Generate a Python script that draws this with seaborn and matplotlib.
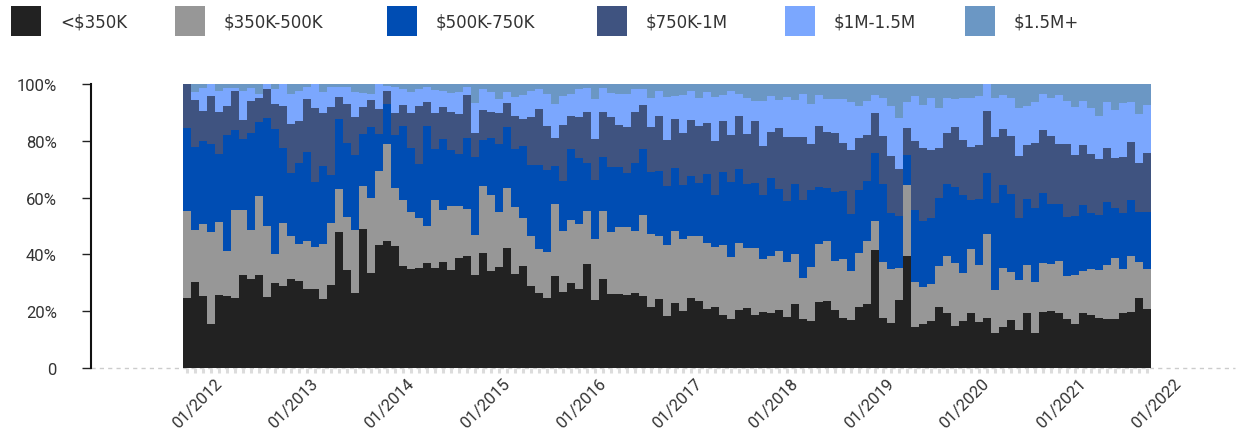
import numpy as np
import pandas as pd
import matplotlib
matplotlib.use("Agg")
import matplotlib.pyplot as plt
import seaborn as sns
from matplotlib.patches import Rectangle
from matplotlib.transforms import ScaledTranslation

# ---------------- data (share of sales, %) ----------------
months = pd.date_range("2012-01-01", periods=121, freq="MS")

under_350k = [
    24.6, 30.3, 25.4, 15.5, 25.7, 25.4, 24.6, 32.7, 31.3, 32.7,
    25.0, 29.9, 28.9, 31.3, 30.6, 27.8, 27.8, 24.3, 29.2, 47.9,
    34.5, 26.4, 48.9, 33.5, 43.3, 44.7, 43.0, 35.9, 34.9, 35.2,
    37.0, 35.2, 37.3, 34.5, 38.7, 39.4, 32.7, 40.5, 34.2, 35.6,
    42.3, 33.1, 35.9, 28.9, 26.4, 24.6, 32.4, 26.8, 29.9, 27.8,
    36.6, 23.9, 31.3, 26.1, 26.1, 25.7, 26.4, 25.4, 21.5, 24.3,
    18.3, 22.9, 20.1, 24.6, 23.6, 20.8, 21.5, 18.7, 17.3, 20.4,
    21.1, 18.7, 19.7, 19.4, 20.4, 18.0, 22.5, 17.3, 16.5, 23.2,
    23.6, 20.4, 17.6, 16.9, 21.5, 22.5, 41.5, 17.6, 15.8, 23.9,
    39.4, 14.4, 15.5, 16.5, 21.5, 19.4, 14.8, 16.5, 19.4, 16.2,
    17.6, 12.3, 14.4, 16.9, 13.4, 19.4, 12.3, 19.7, 20.1, 19.4,
    17.3, 15.5, 19.4, 18.7, 17.6, 17.3, 17.3, 19.4, 19.7, 24.6, 20.8,
]
k350_500 = [
    30.7, 18.3, 25.3, 32.4, 25.7, 15.8, 31.0, 22.9, 17.3, 27.9,
    25.0, 10.2, 22.2, 15.2, 13.1, 16.9, 14.8, 19.4, 21.9, 15.1,
    18.7, 22.2, 15.2, 26.4, 26.1, 34.2, 20.4, 23.3, 20.0, 17.6,
    13.0, 24.0, 18.3, 22.5, 18.3, 16.6, 14.1, 23.6, 26.7, 19.3,
    21.1, 23.6, 16.9, 17.6, 15.5, 16.2, 25.3, 21.4, 22.2, 22.9,
    18.7, 21.5, 24.0, 21.8, 23.5, 23.9, 21.8, 28.5, 25.7, 22.2,
    25.0, 25.3, 25.3, 21.9, 22.9, 23.2, 21.1, 24.6, 21.8, 23.6,
    21.2, 23.6, 18.7, 20.0, 20.8, 19.3, 17.6, 14.4, 19.1, 20.5,
    21.1, 17.3, 20.8, 17.3, 19.0, 22.2, 10.3, 19.7, 19.1, 11.3,
    25.0, 15.9, 13.0, 13.1, 14.4, 20.0, 22.2, 17.0, 22.5, 20.1,
    29.6, 15.2, 20.8, 16.9, 17.6, 16.9, 18.0, 17.3, 16.5, 18.3,
    15.1, 17.2, 14.8, 16.2, 16.9, 19.0, 21.4, 15.5, 19.7, 12.7, 14.1,
]
k500_750 = [
    29.2, 29.3, 29.3, 31.0, 24.0, 40.8, 28.2, 25.0, 34.1, 26.0,
    38.0, 44.1, 26.4, 22.2, 28.5, 31.4, 22.9, 27.4, 16.9, 24.7,
    26.0, 26.4, 18.3, 25.0, 13.0, 14.1, 18.6, 26.0, 22.6, 19.0,
    35.2, 17.9, 25.0, 19.8, 18.4, 25.0, 27.5, 16.2, 20.1, 24.0,
    21.5, 20.4, 25.4, 25.0, 29.6, 28.9, 13.4, 17.6, 25.0, 23.2,
    16.9, 20.8, 19.0, 22.9, 21.2, 19.1, 24.0, 23.2, 21.8, 22.9,
    20.8, 22.2, 19.0, 21.1, 18.6, 24.3, 18.3, 25.7, 26.4, 26.1,
    22.5, 22.8, 22.5, 27.5, 21.8, 21.5, 24.7, 27.5, 27.1, 20.0,
    18.7, 24.3, 23.9, 20.0, 22.2, 21.1, 23.9, 27.5, 19.7, 18.3,
    10.6, 25.3, 23.3, 23.2, 24.0, 25.4, 26.7, 27.4, 17.3, 23.2,
    21.5, 30.6, 29.2, 27.5, 21.8, 23.2, 26.0, 24.6, 21.1, 20.0,
    20.8, 20.8, 23.2, 19.7, 19.4, 22.2, 17.6, 19.7, 19.8, 17.6, 20.0,
]
k750_1m = [
    15.5, 16.5, 10.5, 16.9, 14.7, 10.3, 13.7, 6.7, 11.3, 8.5,
    10.2, 8.8, 14.8, 17.2, 14.8, 18.6, 26.0, 18.7, 23.9, 7.7,
    13.8, 13.4, 9.5, 9.5, 8.8, 4.5, 7.8, 7.4, 12.3, 20.5,
    8.5, 12.7, 11.3, 13.3, 14.0, 15.1, 8.4, 10.5, 9.1, 10.9,
    8.4, 11.6, 9.5, 16.9, 19.7, 15.5, 9.9, 19.8, 11.6, 14.5,
    17.9, 14.4, 15.8, 17.6, 14.8, 16.2, 17.9, 15.5, 15.9, 19.3,
    16.2, 17.3, 18.3, 19.7, 20.1, 18.0, 19.0, 18.0, 16.5, 18.6,
    17.6, 21.9, 17.3, 16.2, 21.5, 22.5, 16.5, 22.1, 16.2, 21.5,
    19.7, 20.7, 16.9, 22.6, 18.3, 16.2, 14.1, 16.9, 20.0, 16.6,
    9.5, 24.3, 25.7, 24.0, 17.6, 17.9, 21.2, 19.4, 18.6, 19.0,
    21.8, 23.2, 19.8, 20.4, 21.8, 19.0, 22.9, 22.2, 24.0, 21.2,
    25.7, 21.5, 21.1, 20.8, 19.7, 19.0, 17.6, 19.7, 20.4, 17.3, 20.8,
]
m1_1_5 = [
    0.0, 2.9, 8.1, 4.2, 7.6, 6.3, 1.1, 10.2, 4.6, 1.4,
    1.8, 5.2, 7.7, 10.6, 10.5, 4.2, 8.5, 7.4, 7.0, 3.5,
    5.9, 8.8, 4.9, 2.1, 8.8, 1.8, 9.1, 5.6, 7.4, 5.9,
    5.2, 8.1, 5.6, 6.7, 7.8, 2.8, 10.6, 7.4, 7.1, 4.9,
    3.9, 6.7, 8.4, 9.1, 7.0, 11.3, 12.0, 10.2, 7.8, 9.8,
    8.5, 14.1, 8.5, 8.4, 10.9, 11.6, 8.1, 5.6, 10.2, 8.8,
    15.1, 8.1, 13.4, 10.2, 9.9, 10.9, 15.5, 9.1, 15.5, 7.8,
    12.7, 7.0, 15.8, 12.7, 9.9, 14.1, 13.1, 15.2, 14.1, 10.9,
    11.6, 12.0, 15.5, 16.9, 11.3, 12.0, 6.3, 13.4, 17.7, 17.9,
    9.2, 15.9, 15.1, 18.3, 14.0, 12.4, 9.8, 14.8, 17.3, 17.3,
    9.5, 13.8, 11.9, 13.4, 16.9, 13.8, 14.5, 12.7, 13.4, 17.2,
    15.1, 16.9, 15.5, 16.1, 15.1, 16.2, 16.9, 19.0, 14.1, 17.2, 16.9,
]
m1_5_plus = [
    0.0, 2.7, 1.4, 0.0, 2.3, 1.4, 1.4, 2.5, 1.4, 3.5,
    0.0, 1.8, 0.0, 3.5, 2.5, 1.1, 0.0, 2.8, 1.1, 1.1,
    1.1, 2.8, 3.2, 3.5, 0.0, 0.7, 1.1, 1.8, 2.8, 1.8,
    1.1, 2.1, 2.5, 3.2, 2.8, 1.1, 6.7, 1.8, 2.8, 5.3,
    2.8, 4.6, 3.9, 2.5, 1.8, 3.5, 7.0, 4.2, 3.5, 1.8,
    1.4, 5.3, 1.4, 3.2, 3.5, 3.5, 1.8, 1.8, 4.9, 2.5,
    4.6, 4.2, 3.9, 2.5, 4.9, 2.8, 4.6, 3.9, 2.5, 3.5,
    4.9, 6.0, 6.0, 4.2, 5.6, 4.6, 5.6, 3.5, 7.0, 3.9,
    5.3, 5.3, 5.3, 6.3, 7.7, 6.0, 3.9, 4.9, 7.7, 12.0,
    6.3, 4.2, 7.4, 4.9, 8.5, 4.9, 5.3, 4.9, 4.9, 4.2,
    0.0, 4.9, 3.9, 4.9, 8.5, 7.7, 6.3, 3.5, 4.9, 3.9,
    6.0, 8.1, 6.0, 8.5, 11.3, 6.3, 9.2, 6.7, 6.3, 10.6, 7.4,
]

series_names = ["<$350K", "$350K-500K", "$500K-750K", "$750K-1M", "$1M-1.5M", "$1.5M+"]
series_values = [under_350k, k350_500, k500_750, k750_1m, m1_1_5, m1_5_plus]
series_colors = ["#222222", "#979797", "#004db3", "#3f5380", "#7ba7fe", "#6b97c4"]

year_ticks = [f"01/{y}" for y in range(2012, 2023)]

# ---------------- figure ----------------
plt.rcParams["font.family"] = ["Roboto", "DejaVu Sans"]
W, H = 1238, 435
fig = plt.figure(figsize=(W / 100, H / 100), dpi=100)
ax = fig.add_axes([91 / W, (H - 369) / H, 1144 / W, 284 / H])

df = pd.DataFrame({"idx": np.arange(len(months))})
bottom = np.zeros(len(months))
for name, vals, col in zip(series_names, series_values, series_colors):
    v = np.asarray(vals, dtype=float)
    sns.barplot(x=df["idx"].to_numpy(), y=v, ax=ax, orient="x", native_scale=True,
                color=col, saturation=1, width=1.0, errorbar=None,
                bottom=bottom.copy(), linewidth=0, zorder=2)
    bottom = bottom + v

ax.set_xlim(-12, 131)
ax.set_ylim(0, 100)

# x axis
ax.set_xticks(np.arange(0, len(months), 12))
ax.set_xticklabels(year_ticks)
ax.set_xticks(np.arange(len(months)), minor=True)
ax.tick_params(axis="x", which="both", length=3.5, width=2.2, color="#dcdcdc",
               pad=1.5, labelsize=12, labelcolor="#333333")
offset = ScaledTranslation(10 / 100, 0, fig.dpi_scale_trans)
for lab in ax.get_xticklabels():
    lab.set_rotation(45)
    lab.set_ha("center")
    lab.set_transform(lab.get_transform() + offset)

# y axis
ax.set_yticks([0, 20, 40, 60, 80, 100])
ax.set_yticklabels(["0", "20%", "40%", "60%", "80%", "100%"])
ax.tick_params(axis="y", length=6.5, width=1.0, color="#222222", pad=18,
               labelsize=12, labelcolor="#333333")

for s in ["top", "right", "bottom"]:
    ax.spines[s].set_visible(False)
ax.spines["left"].set_color("#111111")
ax.spines["left"].set_linewidth(1.5)
ax.axhline(0, color="#cccccc", lw=1.0, ls=(0, (3, 3)), zorder=1, clip_on=False)
ax.set_xlabel("")
ax.set_ylabel("")
ax.grid(False)

# legend (top row)
sq_x = [11, 175, 387, 597, 785, 965]
for x0, name, col in zip(sq_x, series_names, series_colors):
    fig.add_artist(Rectangle((x0 / W, (H - 37) / H), 30 / W, 30 / H,
                             transform=fig.transFigure, facecolor=col, edgecolor="none"))
    fig.text((x0 + 49) / W, (H - 22) / H, name, ha="left", va="center",
             fontsize=12, color="#333333", family=["DejaVu Sans"])

fig.savefig("out.png", dpi=100)
